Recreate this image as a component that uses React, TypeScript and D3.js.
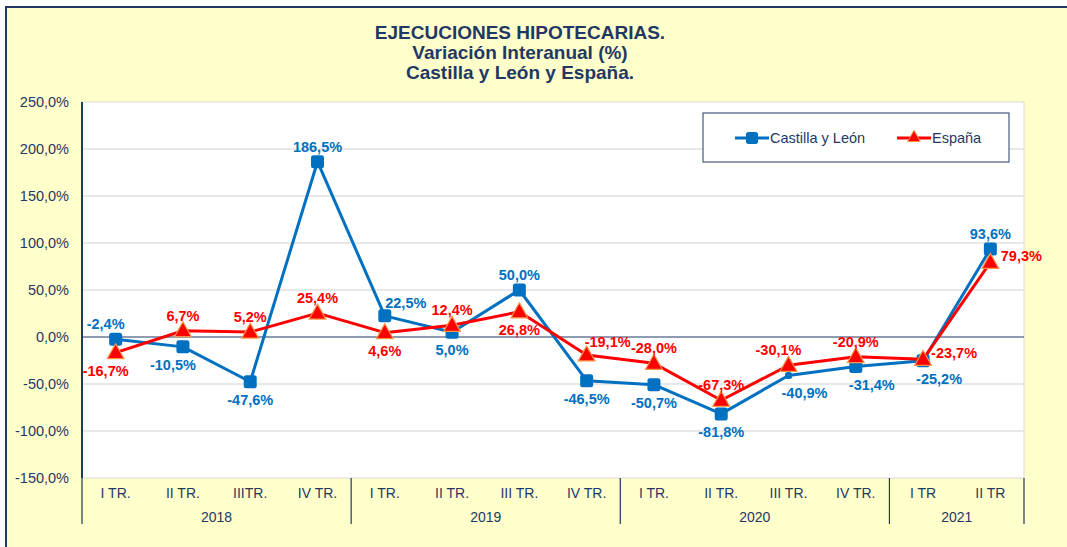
import React from "react";
import * as d3 from "d3";

const quarters = ["I TR.", "II TR.", "IIITR.", "IV TR.", "I TR.", "II TR.", "III TR.", "IV TR.", "I TR.", "II TR.", "III TR.", "IV TR.", "I TR", "II TR"];
const years = ["2018", "2019", "2020", "2021"];
const yearSizes = [4, 4, 4, 2];
const castilla = [-2.4, -10.5, -47.6, 186.5, 22.5, 5.0, 50.0, -46.5, -50.7, -81.8, -40.9, -31.4, -25.2, 93.6];
const espana = [-16.7, 6.7, 5.2, 25.4, 4.6, 12.4, 26.8, -19.1, -28.0, -67.3, -30.1, -20.9, -23.7, 79.3];
const castillaLabelPos = ["tl", "bl", "b", "t", "tr", "b", "t", "b", "b", "b", "br", "br", "br", "t"];
const espanaLabelPos = ["bl", "t", "t", "t", "b", "t", "b", "tr", "t", "t", "tl", "t", "r", "r"];
const yTicks = [250, 200, 150, 100, 50, 0, -50, -100, -150];

const W = 1067, H = 547;
const L = 82, R = 1024, T = 102, B = 478;
const NAVY = "#1F3864";
const BLUE = "#0070C0";
const RED = "#FF0000";
const FONT = "Liberation Sans, Arial, sans-serif";

const fmt = (v: number) => v.toFixed(1).replace(".", ",") + "%";

export default function App() {
  const x = d3.scaleBand<number>().domain(d3.range(quarters.length)).range([L, R]);
  const cx = (i: number) => (x(i) as number) + x.bandwidth() / 2;
  const y = d3.scaleLinear().domain([-150, 250]).range([B, T]);
  const line = d3.line<number>().x((_, i) => cx(i)).y((d) => y(d));

  const labelXY = (i: number, v: number, pos: string) => {
    const px = cx(i), py = y(v);
    switch (pos) {
      case "t": return [px, py - 15];
      case "b": return [px, py + 18];
      case "tl": return [px - 10, py - 15];
      case "bl": return [px - 10, py + 18];
      case "tr": return [px + 21, py - 13];
      case "br": return [px + 16, py + 18];
      case "r": return [px + 31, py - 6];
      default: return [px, py - 15];
    }
  };

  const tri = (px: number, py: number, s: number) =>
    `M${px},${py - s * 0.75}L${px + s * 0.7},${py + s * 0.5}L${px - s * 0.7},${py + s * 0.5}Z`;

  let acc = 0;
  const yearBounds = yearSizes.map((n) => {
    const start = acc;
    acc += n;
    return [start, acc];
  });

  return (
    <svg width={W} height={H} style={{ position: "absolute", left: 0, top: 0 }} fontFamily={FONT}>
      <rect x={0} y={0} width={W} height={H} fill="#FFFFFF" />
      <rect x={6} y={7} width={W + 10} height={H + 10} fill="#FFFFCC" stroke={NAVY} strokeWidth={2} />
      <g textAnchor="middle" fill={NAVY} fontWeight="bold" fontSize={19}>
        <text x={520} y={39}>EJECUCIONES HIPOTECARIAS.</text>
        <text x={520} y={59}>Variación Interanual (%)</text>
        <text x={520} y={79}>Castilla y León y España.</text>
      </g>
      <rect x={L} y={T} width={R - L} height={B - T} fill="#FFFFFF" stroke="#D9D9D9" strokeWidth={1} />
      {yTicks.map((t) => (
        <g key={t}>
          {t !== 0 && t !== -150 && t !== 250 && (
            <line x1={L} x2={R} y1={y(t)} y2={y(t)} stroke="#E0E0E0" strokeWidth={1.5} />
          )}
          <text x={69} y={y(t) + 5} textAnchor="end" fontSize={14.5} fill={NAVY}>{fmt(t)}</text>
        </g>
      ))}
      <line x1={L} x2={R} y1={y(0)} y2={y(0)} stroke={NAVY} strokeWidth={1.2} />
      <line x1={L} x2={L} y1={T} y2={B} stroke={NAVY} strokeWidth={2} />
      {yearBounds.map(([s, e], k) => (
        <g key={k}>
          <line x1={(x(s) as number)} x2={(x(s) as number)} y1={B} y2={524} stroke={NAVY} strokeWidth={1.2} />
          {k === yearBounds.length - 1 && (
            <line x1={R} x2={R} y1={B} y2={524} stroke={NAVY} strokeWidth={1.2} />
          )}
          <text x={((x(s) as number) + (e === quarters.length ? R : (x(e) as number))) / 2} y={522} textAnchor="middle" fontSize={14} fill={NAVY}>{years[k]}</text>
        </g>
      ))}
      {quarters.map((q, i) => (
        <text key={i} x={cx(i)} y={498} textAnchor="middle" fontSize={14} fill={NAVY}>{q}</text>
      ))}
      <path d={line(castilla) as string} fill="none" stroke={BLUE} strokeWidth={3} strokeLinejoin="round" />
      {castilla.map((v, i) => {
        const s = i === 10 ? 7 : 13;
        return <rect key={i} x={cx(i) - s / 2} y={y(v) - s / 2} width={s} height={s} rx={2.5} fill={BLUE} />;
      })}
      <path d={line(espana) as string} fill="none" stroke={RED} strokeWidth={3} strokeLinejoin="round" />
      {espana.map((v, i) => (
        <path key={i} d={tri(cx(i), y(v), 12)} fill={RED} stroke="#F79646" strokeWidth={1.2} />
      ))}
      <g fontWeight="bold" fontSize={14.5} textAnchor="middle">
        {castilla.map((v, i) => {
          const [lx, ly] = labelXY(i, v, castillaLabelPos[i]);
          return <text key={i} x={lx} y={ly + 5} fill={BLUE}>{fmt(v)}</text>;
        })}
        {espana.map((v, i) => {
          const [lx, ly] = labelXY(i, v, espanaLabelPos[i]);
          return <text key={i} x={lx} y={ly + 5} fill={RED}>{fmt(v)}</text>;
        })}
      </g>
      <g>
        <rect x={703} y={113} width={306} height={49} fill="#FFFFFF" stroke={NAVY} strokeWidth={1} />
        <line x1={735} x2={769} y1={138} y2={138} stroke={BLUE} strokeWidth={3} />
        <rect x={746} y={132} width={12} height={12} rx={2.5} fill={BLUE} />
        <text x={770} y={143} fontSize={14.5} fill={NAVY}>Castilla y León</text>
        <line x1={897} x2={931} y1={138} y2={138} stroke={RED} strokeWidth={3} />
        <path d={tri(914, 137, 9)} fill={RED} stroke="#F79646" strokeWidth={1} />
        <text x={932} y={143} fontSize={14.5} fill={NAVY}>España</text>
      </g>
    </svg>
  );
}
